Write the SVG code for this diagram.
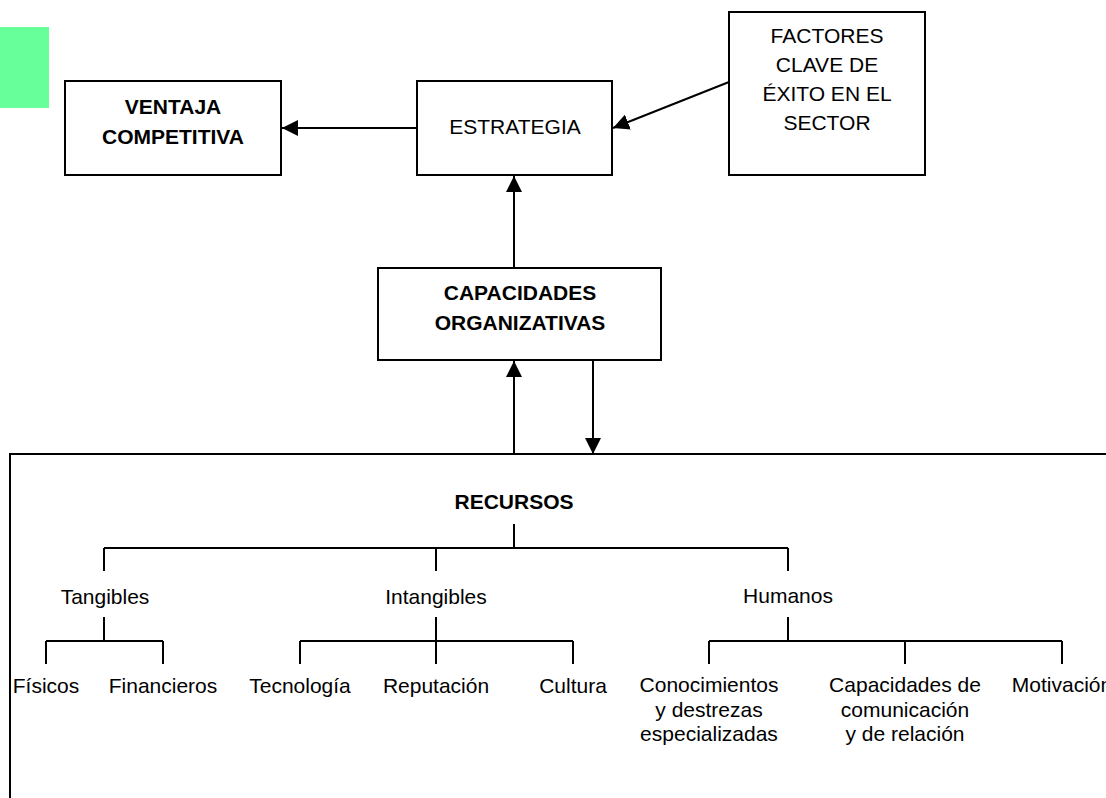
<svg xmlns="http://www.w3.org/2000/svg" width="1106" height="798" viewBox="0 0 1106 798">
<style>
  .box { fill: #ffffff; stroke: #000000; stroke-width: 2; }
  .ln { fill: none; stroke: #000000; stroke-width: 2; }
  .t { font-family: "Liberation Sans", Arial, sans-serif; font-size: 21px; fill: #000000; text-anchor: middle; }
  .b { font-family: "Liberation Sans", Arial, sans-serif; font-size: 21px; font-weight: bold; fill: #000000; text-anchor: middle; }
</style>
<defs>
  <marker id="arr" markerUnits="userSpaceOnUse" markerWidth="16" markerHeight="16" viewBox="0 0 16 16" refX="16" refY="8" orient="auto">
    <path d="M0,0 L16,8 L0,16 Z" fill="#000000"/>
  </marker>
</defs>
<rect width="1106" height="798" fill="#ffffff"/>
<rect id="green" x="0" y="27" width="49" height="81" fill="#66ff99"/>

<g id="ventaja">
  <rect class="box" x="65" y="81" width="216" height="94"/>
  <text class="b" x="173" y="114">VENTAJA</text>
  <text class="b" x="173" y="144">COMPETITIVA</text>
</g>
<g id="estrategia">
  <rect class="box" x="417" y="81" width="195" height="94"/>
  <text class="t" x="515" y="134">ESTRATEGIA</text>
</g>
<g id="factores">
  <rect class="box" x="729" y="12" width="196" height="163"/>
  <text class="t" x="827" y="43">FACTORES</text>
  <text class="t" x="827" y="72">CLAVE DE</text>
  <text class="t" x="827" y="101">ÉXITO EN EL</text>
  <text class="t" x="827" y="130">SECTOR</text>
</g>
<g id="capacidades">
  <rect class="box" x="378" y="268" width="283" height="92"/>
  <text class="b" x="520" y="300">CAPACIDADES</text>
  <text class="b" x="520" y="330">ORGANIZATIVAS</text>
</g>
<g id="recursos">
  <path class="ln" d="M1106,454 H10 V798"/>
  <text class="b" x="514" y="509">RECURSOS</text>
  <path class="ln" d="M514,524 V548 M104,548 H788 M104,548 V571 M436,548 V571 M788,548 V571"/>
  <text class="t" x="105" y="604">Tangibles</text>
  <text class="t" x="436" y="604">Intangibles</text>
  <text class="t" x="788" y="603">Humanos</text>
  <path class="ln" d="M104,617 V641 M46,641 H163 M46,641 V664 M163,641 V664"/>
  <path class="ln" d="M436,617 V664 M300,641 H573 M300,641 V664 M573,641 V664"/>
  <path class="ln" d="M788,617 V641 M709,641 H1062 M709,641 V664 M905,641 V664 M1062,641 V664"/>
  <text class="t" x="46" y="693">Físicos</text>
  <text class="t" x="163" y="693">Financieros</text>
  <text class="t" x="300" y="693">Tecnología</text>
  <text class="t" x="436" y="693">Reputación</text>
  <text class="t" x="573" y="693">Cultura</text>
  <text class="t" x="709" y="692">Conocimientos</text>
  <text class="t" x="709" y="717">y destrezas</text>
  <text class="t" x="709" y="741">especializadas</text>
  <text class="t" x="905" y="692">Capacidades de</text>
  <text class="t" x="905" y="717">comunicación</text>
  <text class="t" x="905" y="741">y de relación</text>
  <text class="t" x="1062" y="692">Motivación</text>
</g>

<g id="connectors">
  <path class="ln" d="M417,128 L282,128" marker-end="url(#arr)"/>
  <path class="ln" d="M729,82 L613,128" marker-end="url(#arr)"/>
  <path class="ln" d="M514,268 L514,176" marker-end="url(#arr)"/>
  <path class="ln" d="M514,454 L514,361" marker-end="url(#arr)"/>
  <path class="ln" d="M593,361 L593,454" marker-end="url(#arr)"/>
</g>
</svg>
